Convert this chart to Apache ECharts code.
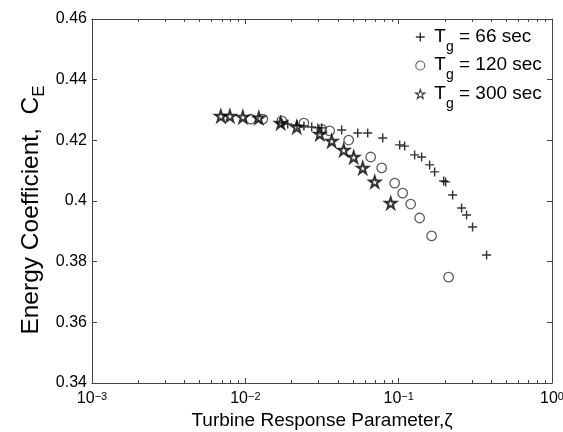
<!DOCTYPE html>
<html>
<head>
<meta charset="utf-8">
<script src="https://cdn.jsdelivr.net/npm/echarts@6/dist/echarts.min.js"></script>
<style>
html,body{margin:0;padding:0;background:#fff;}
#chart{width:563px;height:432px;}
</style>
</head>
<body>
<div id="chart"></div>
<script>
// ---- data ----
const seriesNames = ['T_g = 66 sec', 'T_g = 120 sec', 'T_g = 300 sec'];
const legendTexts = [' = 66 sec', ' = 120 sec', ' = 300 sec'];

const tg66 = [
  [0.0173,0.4257],[0.0189,0.4254],[0.0217,0.4251],[0.0241,0.4247],[0.0271,0.4244],
  [0.0297,0.4241],[0.0315,0.4241],[0.0425,0.4234],[0.0541,0.4224],[0.0628,0.4224],
  [0.0787,0.4208],[0.1015,0.4185],[0.1094,0.4181],[0.1271,0.4152],[0.1412,0.4145],
  [0.1592,0.4119],[0.1716,0.4096],[0.1965,0.4066],[0.2024,0.4063],[0.2248,0.4020],
  [0.2573,0.3977],[0.2773,0.3954],[0.3034,0.3914],[0.3745,0.3822]
];
const tg120 = [
  [0.01086,0.4270],[0.0130,0.4270],[0.0173,0.4264],[0.0241,0.4257],[0.0315,0.4236],
  [0.0355,0.4231],[0.0472,0.4201],[0.0657,0.4145],[0.0775,0.4109],[0.0942,0.4059],
  [0.1062,0.4026],[0.1197,0.3990],[0.1370,0.3944],[0.1640,0.3885],[0.2117,0.3749]
];
const tg300 = [
  [0.00692,0.4280],[0.00793,0.4280],[0.00963,0.4277],[0.01225,0.4274],[0.0170,0.4257],
  [0.02165,0.4244],[0.0306,0.4221],[0.0366,0.4198],[0.0438,0.4168],[0.0509,0.4145],
  [0.0583,0.4109],[0.0698,0.4063],[0.0887,0.3993]
];

const xTickValues = [0.001, 0.01, 0.1, 1];
const xTickExponents = ['\u22123', '\u22122', '\u22121', '0'];
const minorTickValues = [
  0.002,0.003,0.004,0.005,0.006,0.007,0.008,0.009,
  0.02,0.03,0.04,0.05,0.06,0.07,0.08,0.09,
  0.2,0.3,0.4,0.5,0.6,0.7,0.8,0.9
];

// ---- chart ----
const FONT = '"Liberation Sans", Arial, Helvetica, sans-serif';
const AXIS_COLOR = '#444';
const plusPath = 'path://M4.2,0H5.8V4.2H10V5.8H5.8V10H4.2V5.8H0V4.2H4.2Z';
const starPath = 'path://M10,0L12.245,6.91L19.511,6.91L13.633,11.18L15.878,18.09L10,13.82L4.122,18.09L6.367,11.18L0.489,6.91L7.755,6.91Z';

const chart = echarts.init(document.getElementById('chart'), null, {renderer: 'canvas'});

function xLabel(v) {
  for (let i = 0; i < xTickValues.length; i++) {
    if (Math.abs(Math.log10(v) - Math.log10(xTickValues[i])) < 1e-6) {
      return '{b|10}{e|' + xTickExponents[i] + '}';
    }
  }
  return '';
}

const baseAxis = {
  axisLine: {show: true, lineStyle: {color: AXIS_COLOR, width: 1}},
  axisTick: {show: true, inside: true, length: 5, lineStyle: {color: AXIS_COLOR}},
  splitLine: {show: false}
};

const circleStyle = {color: 'rgba(255,255,255,0)', borderColor: '#333', borderWidth: 1.3};
const starStyle = {color: 'rgba(255,255,255,0)', borderColor: '#000', borderWidth: 2};

const option = {
  animation: false,
  backgroundColor: '#fff',
  grid: {left: 92, right: 11, top: 19, bottom: 49, containLabel: false, outerBoundsMode: 'none'},
  xAxis: [
    Object.assign({}, baseAxis, {
      type: 'log', logBase: 10, min: 0.001, max: 1, position: 'bottom',
      name: 'Turbine Response Parameter,\u03B6',
      nameLocation: 'middle', nameGap: 28, nameMoveOverlap: false,
      nameTextStyle: {fontFamily: FONT, fontSize: 19, color: '#000'},
      axisLabel: {
        show: true, margin: 8, formatter: xLabel,
        rich: {
          b: {fontFamily: FONT, fontSize: 16, color: '#000', verticalAlign: 'bottom', lineHeight: 16},
          e: {fontFamily: FONT, fontSize: 11, color: '#000', verticalAlign: 'top', lineHeight: 11, padding: [0, 0, 12, 0]}
        }
      }
    }),
    Object.assign({}, baseAxis, {
      type: 'log', logBase: 10, min: 0.001, max: 1, position: 'top',
      axisLabel: {show: false}
    })
  ],
  yAxis: [
    Object.assign({}, baseAxis, {
      type: 'value', min: 0.34, max: 0.46, interval: 0.02, position: 'left',
      name: '{a|Energy Coefficient,  C}{s|E}',
      nameLocation: 'middle', nameGap: 48, nameRotate: 90, nameMoveOverlap: false,
      nameTextStyle: {
        rich: {
          a: {fontFamily: FONT, fontSize: 24.5, color: '#000', verticalAlign: 'top', lineHeight: 25},
          s: {fontFamily: FONT, fontSize: 17, color: '#000', verticalAlign: 'top', lineHeight: 17, padding: [12, 18, 0, 0]}
        }
      },
      axisLabel: {
        show: true, margin: 5, fontFamily: FONT, fontSize: 16, color: '#000',
        formatter: v => String(Math.round(v * 100) / 100)
      }
    }),
    Object.assign({}, baseAxis, {
      type: 'value', min: 0.34, max: 0.46, interval: 0.02, position: 'right',
      axisLabel: {show: false}
    })
  ],
  legend: {
    orient: 'vertical', left: 410, top: 22, itemGap: -5.5,
    itemWidth: 18, itemHeight: 9,
    data: [
      {name: seriesNames[0], itemStyle: {color: '#000', borderWidth: 0}},
      {name: seriesNames[1], itemStyle: {color: 'rgba(255,255,255,0)', borderColor: '#333', borderWidth: 1.1}},
      {name: seriesNames[2], itemStyle: {color: 'rgba(255,255,255,0)', borderColor: '#000', borderWidth: 1.1}}
    ],
    formatter: name => '{t|T}{g|g}{t|' + legendTexts[seriesNames.indexOf(name)] + '}',
    textStyle: {
      rich: {
        t: {fontFamily: FONT, fontSize: 19, color: '#000', verticalAlign: 'top', lineHeight: 20},
        g: {fontFamily: FONT, fontSize: 14, color: '#000', verticalAlign: 'top', lineHeight: 14, padding: [13, 0, 7, 0]}
      }
    }
  },
  series: [
    {
      name: seriesNames[0], type: 'scatter', data: tg66,
      symbol: plusPath, symbolSize: 9,
      itemStyle: {color: '#000'}
    },
    {
      name: seriesNames[1], type: 'scatter', data: tg120,
      symbol: 'circle', symbolSize: 9.5,
      itemStyle: circleStyle
    },
    {
      name: seriesNames[2], type: 'scatter', data: tg300,
      symbol: starPath, symbolSize: 11,
      itemStyle: starStyle
    },
    {
      name: 'minorTicks', type: 'custom', silent: true, clip: false,
      data: minorTickValues.map(v => [v, 0.40]),
      renderItem: function (params, api) {
        const v = api.value(0);
        const pb = api.coord([v, 0.34]);
        const pt = api.coord([v, 0.46]);
        const st = {stroke: AXIS_COLOR, lineWidth: 1};
        return {
          type: 'group',
          children: [
            {type: 'line', shape: {x1: Math.round(pb[0]) + 0.5, y1: pb[1], x2: Math.round(pb[0]) + 0.5, y2: pb[1] - 3}, style: st},
            {type: 'line', shape: {x1: Math.round(pt[0]) + 0.5, y1: pt[1], x2: Math.round(pt[0]) + 0.5, y2: pt[1] + 3}, style: st}
          ]
        };
      }
    }
  ]
};

chart.setOption(option);
</script>
</body>
</html>
